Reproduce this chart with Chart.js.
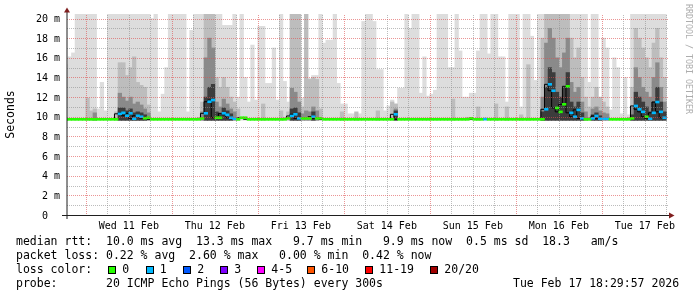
<!DOCTYPE html>
<html>
<head>
<meta charset="utf-8">
<title>SmokePing</title>
<script src="https://cdn.jsdelivr.net/npm/chart.js@4.4.1/dist/chart.umd.min.js"></script>
<style>
  html, body { margin:0; padding:0; background:#fff; }
  #wrap { position:relative; width:697px; height:297px; overflow:hidden; background:#fff; }
  #c { position:absolute; left:0; top:0; }
  .t { position:absolute; font-family:'DejaVu Sans Mono', monospace; font-size:11.5px; line-height:14px; white-space:pre; color:#000; }
  .box { position:absolute; top:265.5px; width:8px; height:8px; box-sizing:border-box; border:1px solid #000; }
  #wm { position:absolute; left:684px; top:4px; font-family:'DejaVu Sans Mono', monospace; font-size:8.3px; line-height:10px; color:#adadad; writing-mode:vertical-rl; white-space:pre; }
</style>
</head>
<body>
<div id="wrap">
  <canvas id="c" width="697" height="297"></canvas>
  <div id="wm">RRDTOOL / TOBI OETIKER</div>
  <div class="t" style="left:16px;top:234px">median rtt:  10.0 ms avg  13.3 ms max   9.7 ms min   9.9 ms now  0.5 ms sd  18.3   am/s</div>
  <div class="t" style="left:16px;top:248px">packet loss: 0.22 % avg  2.60 % max   0.00 % min  0.42 % now</div>
  <div class="t" style="left:16px;top:262px">loss color:</div>
  <div class="t" style="left:16px;top:276px">probe:       20 ICMP Echo Pings (56 Bytes) every 300s</div>
  <div class="t" style="left:513px;top:276px">Tue Feb 17 18:29:57 2026</div>
</div>
<script>
// ---- data: one value per hour, first column = Feb 10 18:00, last = Feb 17 18:00 ----
const FIRST_HOUR = -6;            // hours relative to Wed 11 Feb 00:00
const DAY_LABELS = ['Wed 11 Feb','Thu 12 Feb','Fri 13 Feb','Sat 14 Feb','Sun 15 Feb','Mon 16 Feb','Tue 17 Feb'];

// top of the light smoke (slowest ping), ms
const MAX_RTT = [
  15.3, 16.1, 16.5, 21, 21, 21,
  21, 21, 21, 10.8, 13.5, 10.6, 21, 21, 21, 21, 21, 21, 21, 21, 21, 21, 21, 21, 20.0, 21, 10.5, 12.3, 15.0, 21,
  21, 21, 21, 21, 10.5, 18.8, 21, 21, 21, 21, 21, 21, 21, 21, 19.3, 19.3, 19.3, 21, 12.0, 21, 14.0, 11.5, 17.3, 11.7,
  19.2, 19.2, 13.4, 13.4, 17.0, 11.7, 21, 13.6, 11.5, 21, 21, 21, 11.9, 21, 13.9, 14.2, 14.2, 21, 17.5, 17.8, 17.8, 21, 13.4, 11.3,
  11.3, 10.3, 10.3, 10.3, 10.3, 19.7, 21, 21, 19.7, 14.8, 14.8, 10.6, 11.1, 11.7, 11.3, 12.9, 12.9, 21, 19.0, 21, 21, 12.4, 16.1, 12.1,
  12.3, 12.7, 21, 21, 21, 15.0, 15.0, 21, 16.7, 12.0, 12.0, 12.4, 12.4, 16.7, 21, 21, 16.4, 21, 21, 16.1, 16.1, 11.5, 21, 21,
  21, 11.0, 21, 21, 18.2, 13.7, 21, 21, 21, 21, 21, 21, 21, 21, 21, 21, 21, 21, 21, 21, 13.5, 21, 21, 11.5,
  18.0, 17.0, 10.7, 16.0, 15.0, 10.3, 14.0, 10.2, 21, 21, 21, 21, 21, 21, 21, 21, 21, 21, null
];
// top of the medium smoke, ms
const MID_RTT = [
  null, null, null, null, null, null,
  11.9, 10.6, 10.8, null, null, null, null, null, 10.5, 15.5, 15.5, 14.2, 15.0, 16.1, 13.5, 13.2, 13.0, 11.2, null, null, null, null, null, null,
  null, null, null, null, null, null, null, null, 11.5, 21, 21, 21, 14.0, 13.0, 14.0, 13.0, 12.0, 11.5, 10.8, null, null, null, null, null,
  null, 11.3, null, null, null, null, 10.6, null, 10.5, 21, 21, 21, 11.0, 21, 13.8, 14.0, 13.8, 10.8, null, null, null, null, null, 10.5,
  null, null, null, 10.5, null, null, null, null, null, 10.6, null, null, null, 11.5, 11.3, null, null, null, null, null, null, null, null, null,
  null, null, null, null, null, null, 11.8, null, null, null, null, null, null, 11.0, null, null, null, null, 11.3, null, null, 11.0, null, null,
  null, 10.2, null, 15.3, null, null, null, 18.0, 21, 21, 21, 21, 21, 21, 21, 18.0, 16.0, 17.0, 14.0, 12.0, 11.0, 12.0, 13.0, 12.0,
  11.5, 11.0, null, null, null, null, null, null, 13.0, 19.0, 18.0, 17.0, 16.0, 15.0, 17.5, 19.0, 16.0, 14.0, null
];
// top of the dark smoke, ms
const DARK_RTT = [
  null, null, null, null, null, null,
  null, null, 10.4, null, null, null, null, null, null, 12.4, 12.0, 11.6, 12.0, 11.3, 11.5, 11.2, 10.8, 10.4, null, null, null, null, null, null,
  null, null, null, null, null, null, null, null, 10.5, 16.0, 18.0, 17.0, 11.5, 11.0, 11.8, 11.3, 10.8, 10.5, null, null, null, null, null, null,
  null, null, null, null, null, null, null, null, null, 12.9, 12.5, 11.5, 10.3, 10.6, 10.5, 11.0, 10.6, null, null, null, null, null, null, null,
  null, null, null, null, null, null, null, null, null, null, null, null, null, null, 10.8, null, null, null, null, null, null, null, null, null,
  null, null, null, null, null, null, null, null, null, null, null, null, null, null, null, null, null, null, null, null, null, null, null, null,
  null, null, null, null, null, null, null, 12.0, 17.5, 19.0, 18.0, 16.0, 15.0, 16.5, 18.0, 13.5, 12.5, 13.0, 11.5, 10.5, null, 10.8, 11.0, 10.6,
  10.4, 10.3, null, null, null, null, null, null, 11.0, 15.0, 14.0, 13.0, 12.5, 12.0, 14.0, 15.5, 13.0, 11.5, null
];
// top of the darkest smoke, ms
const CORE_RTT = [
  null, null, null, null, null, null,
  null, null, null, null, null, null, null, null, null, 10.9, 10.9, 10.6, 10.8, 10.4, 10.5, 10.4, 10.2, null, null, null, null, null, null, null,
  null, null, null, null, null, null, null, null, null, 12.0, 13.0, 13.3, 10.5, 10.3, 10.9, 10.6, 10.3, null, null, null, null, null, null, null,
  null, null, null, null, null, null, null, null, null, 10.8, 10.9, 10.4, null, null, null, 10.5, null, null, null, null, null, null, null, null,
  null, null, null, null, null, null, null, null, null, null, null, null, null, null, 10.6, null, null, null, null, null, null, null, null, null,
  null, null, null, null, null, null, null, null, null, null, null, null, null, null, null, null, null, null, null, null, null, null, null, null,
  null, null, null, null, null, null, null, 10.5, 13.0, 15.0, 14.5, 12.5, 12.0, 13.0, 14.5, 11.5, 11.0, 11.5, 10.4, null, null, 10.2, 10.4, 10.1,
  null, null, null, null, null, null, null, null, 10.2, 12.5, 12.0, 11.5, 11.0, 10.5, 11.5, 13.0, 11.5, 10.5, null
];
// median rtt, ms
const MEDIAN_RTT = [
  9.74, 9.74, 9.74, 9.74, 9.74, 9.74,
  9.74, 9.74, 9.74, 9.74, 9.74, 9.74, 9.74, 9.74, 9.74, 10.3, 10.4, 10.1, 10.35, 9.8, 10.1, 10.0, 9.85, 9.9, 9.74, 9.74, 9.74, 9.74, 9.74, 9.74,
  9.74, 9.74, 9.74, 9.74, 9.74, 9.74, 9.74, 9.74, 9.84, 10.35, 11.53, 11.7, 9.9, 9.9, 10.35, 10.2, 9.9, 9.8, 9.74, 9.9, 9.9, 9.74, 9.74, 9.74,
  9.74, 9.74, 9.74, 9.74, 9.74, 9.74, 9.74, 9.74, 9.84, 10.08, 10.25, 9.84, 9.84, 9.84, 9.84, 10.0, 9.84, 9.84, 9.74, 9.74, 9.74, 9.74, 9.74, 9.74,
  9.74, 9.74, 9.74, 9.74, 9.74, 9.74, 9.74, 9.74, 9.74, 9.74, 9.74, 9.74, 9.74, 9.74, 10.25, 9.74, 9.74, 9.74, 9.74, 9.74, 9.74, 9.74, 9.74, 9.74,
  9.74, 9.74, 9.74, 9.74, 9.74, 9.74, 9.74, 9.74, 9.74, 9.74, 9.74, 9.84, 9.74, 9.74, 9.74, 9.76, 9.74, 9.74, 9.74, 9.74, 9.74, 9.74, 9.74, 9.74,
  9.74, 9.74, 9.74, 9.74, 9.74, 9.74, 9.74, 9.74, 10.76, 13.3, 12.65, 10.9, 10.5, 11.27, 13.1, 10.4, 10.0, 10.7, 9.84, 9.74, 9.74, 9.84, 10.08, 9.8,
  9.8, 9.8, 9.74, 9.74, 9.74, 9.74, 9.74, 9.74, 9.84, 11.1, 10.76, 10.5, 10.0, 9.8, 10.4, 11.5, 10.5, 9.9, null
];
// lost pings out of 20
const LOSS = [
  0, 0, 0, 0, 0, 0,
  0, 0, 0, 0, 0, 0, 0, 0, 0, 1, 1, 1, 1, 1, 1, 1, 0, 0, 0, 0, 0, 0, 0, 0,
  0, 0, 0, 0, 0, 0, 0, 0, 0, 1, 1, 1, 0, 0, 1, 1, 1, 1, 0, 0, 0, 0, 0, 0,
  0, 0, 0, 0, 0, 0, 0, 0, 0, 1, 1, 1, 0, 0, 0, 1, 0, 0, 0, 0, 0, 0, 0, 0,
  0, 0, 0, 0, 0, 0, 0, 0, 0, 0, 0, 0, 0, 0, 1, 0, 0, 0, 0, 0, 0, 0, 0, 0,
  0, 0, 0, 0, 0, 0, 0, 0, 0, 0, 0, 0, 0, 0, 0, 1, 0, 0, 0, 0, 0, 0, 0, 0,
  0, 0, 0, 0, 0, 0, 0, 0, 1, 1, 1, 0, 0, 0, 0, 1, 1, 1, 1, 0, 0, 1, 1, 1,
  1, 1, 0, 0, 0, 0, 0, 0, 0, 1, 1, 1, 0, 1, 1, 1, 1, 1, null
];
const LOSS_LABELS = ['0', '1', '2', '3', '4-5', '6-10', '11-19', '20/20'];
const LOSS_UPPER  = [0, 1, 2, 3, 5, 10, 19, 20];
const LOSS_COLORS = ['#26ff00', '#00b8ff', '#0059ff', '#7e00ff', '#ff00ff', '#ff5500', '#ff0000', '#a10000'];

// ---- style / layout constants ----
const X_MIN = -5.25, X_MAX = 162.75, Y_MAX = 20.46;
const SMOKE_FLOOR = 9.65;
const MED_HALF = 0.1;
const SMOKE_COLORS = ['#dddddd', '#bdbdbd', '#8a8a8a', '#3c3c3c'];
const MAJOR_GRID = 'rgba(222,79,79,0.6)';
const MINOR_GRID = 'rgba(143,143,143,0.6)';
const LEGEND_BOX_X = [108, 145.5, 183, 220, 257, 307, 365, 430];
const MONO = "'DejaVu Sans Mono', monospace";

// legend boxes
const wrap = document.getElementById('wrap');
LOSS_LABELS.forEach((lab, i) => {
  const b = document.createElement('div');
  b.className = 'box'; b.style.left = LEGEND_BOX_X[i] + 'px'; b.style.background = LOSS_COLORS[i];
  wrap.appendChild(b);
  const t = document.createElement('div');
  t.className = 't'; t.style.left = (LEGEND_BOX_X[i] + 14.3) + 'px'; t.style.top = '262px';
  t.textContent = lab;
  wrap.appendChild(t);
});

function lossColor(n) {
  for (let i = 0; i < LOSS_UPPER.length; i++) if (n <= LOSS_UPPER[i]) return LOSS_COLORS[i];
  return LOSS_COLORS[LOSS_COLORS.length - 1];
}
function smokeSet(arr, color, order) {
  const pts = [];
  arr.forEach((v, i) => { if (v != null) pts.push({ x: FIRST_HOUR + i + 0.5, y: [SMOKE_FLOOR, v] }); });
  return { type: 'bar', data: pts, backgroundColor: color, borderWidth: 0, barPercentage: 1, categoryPercentage: 1, grouped: false, order: order, clip: 0 };
}
const medPts = [], medCols = [], stepPts = [];
MEDIAN_RTT.forEach((v, i) => {
  stepPts.push({ x: FIRST_HOUR + i, y: v });
  if (v != null) { medPts.push({ x: FIRST_HOUR + i + 0.5, y: [v - MED_HALF, v + MED_HALF] }); medCols.push(lossColor(LOSS[i])); }
});

const TICK_HOURS = []; for (let h = 0; h <= X_MAX; h += 6) TICK_HOURS.push(h);
const Y_TICKS = []; for (let v = 0; v <= 20; v++) Y_TICKS.push(v);

// rrdtool-style dotted grid drawn over the smoke, positioned by the chart's own scales
const gridPlugin = {
  id: 'rrdGrid',
  afterDatasetsDraw(chart) {
    const { ctx, chartArea: a, scales } = chart;
    const L = Math.round(a.left), R = Math.round(a.right), T = Math.round(a.top), B = Math.round(a.bottom);
    ctx.save();
    TICK_HOURS.forEach(h => {
      const px = Math.round(scales.x.getPixelForValue(h));
      ctx.fillStyle = (h % 24 === 0) ? MAJOR_GRID : MINOR_GRID;
      for (let yy = B - 2; yy >= T; yy -= 2) ctx.fillRect(px, yy, 1, 1);
    });
    Y_TICKS.forEach(v => {
      if (v === 0) return;
      const py = Math.round(scales.y.getPixelForValue(v));
      ctx.fillStyle = (v % 2 === 0) ? MAJOR_GRID : MINOR_GRID;
      for (let xx = L; xx < R; xx += 2) ctx.fillRect(xx, py, 1, 1);
    });
    ctx.restore();
  }
};

const axesPlugin = {
  id: 'rrdAxes',
  afterDraw(chart) {
    const { ctx, chartArea: a } = chart;
    ctx.save();
    ctx.lineWidth = 1;
    ctx.strokeStyle = '#1f1f1f';
    ctx.beginPath(); ctx.moveTo(62, a.bottom + 0.5); ctx.lineTo(a.right + 1, a.bottom + 0.5); ctx.stroke();
    ctx.beginPath(); ctx.moveTo(a.left, a.bottom + 4); ctx.lineTo(a.left, 12); ctx.stroke();
    ctx.fillStyle = 'rgb(128,31,31)';
    ctx.beginPath(); ctx.moveTo(a.right, a.bottom - 2.5); ctx.lineTo(a.right + 5.5, a.bottom + 0.5); ctx.lineTo(a.right, a.bottom + 3.5); ctx.closePath(); ctx.fill();
    ctx.beginPath(); ctx.moveTo(a.left - 3, 12.5); ctx.lineTo(a.left, 7.5); ctx.lineTo(a.left + 3, 12.5); ctx.closePath(); ctx.fill();
    ctx.restore();
  }
};

Chart.defaults.font.family = MONO;
Chart.defaults.color = '#000';

new Chart(document.getElementById('c'), {
  type: 'bar',
  data: {
    datasets: [
      smokeSet(MAX_RTT, SMOKE_COLORS[0], 6),
      smokeSet(MID_RTT, SMOKE_COLORS[1], 5),
      smokeSet(DARK_RTT, SMOKE_COLORS[2], 4),
      smokeSet(CORE_RTT, SMOKE_COLORS[3], 3),
      { type: 'line', data: stepPts, stepped: 'after', borderColor: '#000', borderWidth: 1, pointRadius: 0, spanGaps: false, order: 2, clip: 0 },
      { type: 'bar', data: medPts, backgroundColor: medCols, borderWidth: 0, barPercentage: 1, categoryPercentage: 1, grouped: false, order: 1, clip: 0 }
    ]
  },
  options: {
    responsive: false, animation: false, devicePixelRatio: 1, events: [],
    layout: { padding: { left: 0, right: 28, top: 14, bottom: 62 } },
    plugins: { legend: { display: false }, tooltip: { enabled: false } },
    scales: {
      x: {
        type: 'linear', min: X_MIN, max: X_MAX, offset: false,
        afterBuildTicks: s => { s.ticks = TICK_HOURS.map(v => ({ value: v })); },
        afterFit: s => { s.height = 20; },
        ticks: { autoSkip: false, maxRotation: 0, minRotation: 0, padding: 5, font: { size: 10, family: MONO }, color: '#000',
                 callback: v => (v % 24 === 12) ? DAY_LABELS[(v - 12) / 24] : '' },
        grid: { display: false, drawTicks: false, offset: false },
        border: { display: false }
      },
      y: {
        type: 'linear', min: 0, max: Y_MAX,
        afterBuildTicks: s => { s.ticks = Y_TICKS.map(v => ({ value: v })); },
        afterFit: s => { s.width = 67; },
        ticks: { padding: 7, labelOffset: 1, font: { size: 10, family: MONO }, color: '#000',
                 callback: v => (v % 2) ? '' : (v === 0 ? '0  ' : v + ' m') },
        grid: { display: false, drawTicks: false },
        border: { display: false },
        title: { display: true, text: 'Seconds', font: { size: 11.5, family: MONO }, color: '#000', padding: { top: 4, bottom: 0 } }
      }
    }
  },
  plugins: [gridPlugin, axesPlugin]
});
</script>
</body>
</html>
